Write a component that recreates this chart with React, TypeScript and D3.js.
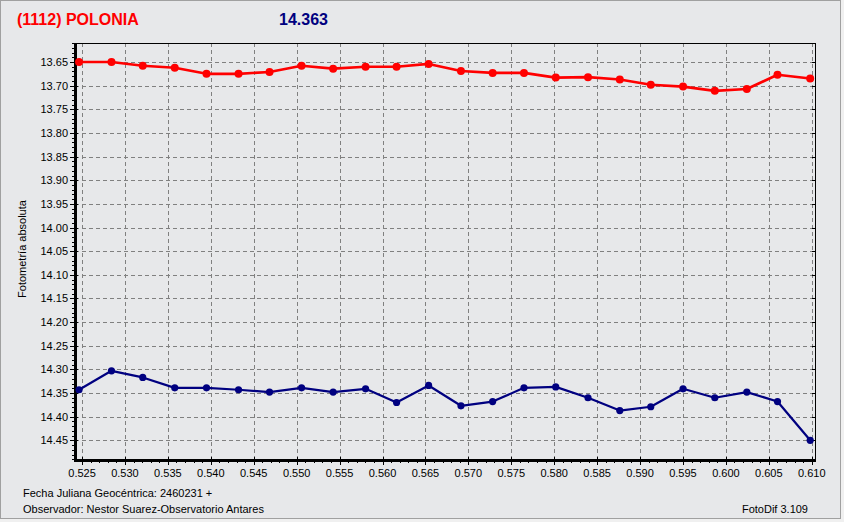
import React from "react";
import * as d3 from "d3";

const W = 844;
const H = 522;

const titleName = "(1112) POLONIA";
const titleValue = "14.363";
const yAxisLabel = "Fotometría absoluta";
const footerLine1 = "Fecha Juliana Geocéntrica: 2460231 +";
const footerLine2 = "Observador: Nestor Suarez-Observatorio Antares";
const footerRight = "FotoDif 3.109";

const times = [
  0.52465, 0.52843, 0.53207, 0.5358, 0.5395, 0.54323, 0.54684, 0.55057,
  0.55425, 0.55803, 0.56164, 0.56537, 0.56914, 0.57283, 0.57648, 0.58018,
  0.58394, 0.58764, 0.59125, 0.59501, 0.59871, 0.60244, 0.60601, 0.60982,
];

const redSeries = [
  13.65, 13.65, 13.658, 13.662, 13.675, 13.675, 13.671, 13.658,
  13.664, 13.66, 13.66, 13.654, 13.669, 13.673, 13.673, 13.683,
  13.682, 13.687, 13.698, 13.702, 13.711, 13.707, 13.677, 13.685,
];

const blueSeries = [
  14.343, 14.303, 14.317, 14.339, 14.339, 14.343, 14.348, 14.339,
  14.348, 14.341, 14.37, 14.334, 14.377, 14.368, 14.339, 14.337,
  14.36, 14.387, 14.379, 14.341, 14.36, 14.348, 14.368, 14.45,
];

const xTickLabels = [
  "0.525", "0.530", "0.535", "0.540", "0.545", "0.550", "0.555", "0.560", "0.565",
  "0.570", "0.575", "0.580", "0.585", "0.590", "0.595", "0.600", "0.605", "0.610",
];

const yTickLabels = [
  "13.65", "13.70", "13.75", "13.80", "13.85", "13.90", "13.95", "14.00", "14.05",
  "14.10", "14.15", "14.20", "14.25", "14.30", "14.35", "14.40", "14.45",
];

export default function App() {
  const left = 75, right = 815, top = 43, bottom = 460;
  const x = d3.scaleLinear().domain([0.52418, 0.61038]).range([left, right]);
  const y = d3.scaleLinear().domain([13.6098, 14.4916]).range([top, bottom]);

  const xTicks = xTickLabels.map((s) => +s);
  const yTicks = yTickLabels.map((s) => +s);

  const xMinor = d3.range(Math.ceil(0.52418 * 1000), Math.floor(0.61038 * 1000) + 1).map((v) => v / 1000);
  const yMinor = d3.range(Math.ceil(13.6098 * 100), Math.floor(14.4916 * 100) + 1).map((v) => v / 100);

  const line = d3
    .line<[number, number]>()
    .x((d) => x(d[0]))
    .y((d) => y(d[1]));

  const redPts: [number, number][] = times.map((t, i) => [t, redSeries[i]]);
  const bluePts: [number, number][] = times.map((t, i) => [t, blueSeries[i]]);

  const font = "'Liberation Sans', Arial, sans-serif";
  const px = (v: number) => Math.round(v) + 0.5;

  return (
    <svg
      width={W}
      height={H}
      style={{ position: "absolute", left: 0, top: 0, display: "block" }}
      fontFamily={font}
    >
      <rect x={0} y={0} width={W} height={H} fill="#f0f0f0" />
      <rect x={0.5} y={0.5} width={840} height={518} fill="#e7e8ea" stroke="#a0a0a0" shapeRendering="crispEdges" />

      {/* title */}
      <text x={17} y={25} fontSize={16} fontWeight="bold" fill="#ff0000">{titleName}</text>
      <text x={279} y={25} fontSize={16} fontWeight="bold" fill="#000080">{titleValue}</text>

      {/* grid */}
      <g stroke="#808080" strokeDasharray="4,3" strokeWidth={1} shapeRendering="crispEdges">
        {xTicks.map((t, i) => (
          <line key={"gx" + i} x1={px(x(t))} x2={px(x(t))} y1={top} y2={bottom} />
        ))}
        {yTicks.map((t, i) => (
          <line key={"gy" + i} x1={left} x2={right} y1={px(y(t))} y2={px(y(t))} />
        ))}
      </g>

      {/* minor ticks */}
      <g stroke="#000" strokeWidth={1} shapeRendering="crispEdges">
        {xMinor.map((t, i) => (
          <line key={"mx" + i} x1={px(x(t))} x2={px(x(t))} y1={bottom} y2={bottom + 3} />
        ))}
        {yMinor.map((t, i) => (
          <line key={"my" + i} x1={left - 3} x2={left} y1={px(y(t))} y2={px(y(t))} />
        ))}
        {xTicks.map((t, i) => (
          <line key={"tx" + i} x1={px(x(t))} x2={px(x(t))} y1={bottom - 3} y2={bottom + 5} />
        ))}
        {yTicks.map((t, i) => (
          <line key={"ty" + i} x1={left - 5} x2={left + 3} y1={px(y(t))} y2={px(y(t))} />
        ))}
        {yTicks.map((t, i) => (
          <line key={"tyr" + i} x1={right - 3} x2={right} y1={px(y(t))} y2={px(y(t))} />
        ))}
      </g>

      {/* plot frame */}
      <g shapeRendering="crispEdges">
        <line x1={left} x2={right + 1} y1={top + 0.5} y2={top + 0.5} stroke="#000" strokeWidth={1} />
        <line x1={right + 0.5} x2={right + 0.5} y1={top} y2={bottom} stroke="#000" strokeWidth={1} />
        <line x1={left} x2={left} y1={top} y2={bottom + 1.5} stroke="#000" strokeWidth={3} />
        <line x1={left - 1.5} x2={right + 1} y1={bottom} y2={bottom} stroke="#000" strokeWidth={3} />
      </g>

      {/* series */}
      <path d={line(redPts) || ""} fill="none" stroke="#ff0000" strokeWidth={2.6} strokeLinejoin="round" />
      {redPts.map((p, i) => (
        <circle key={"r" + i} cx={x(p[0])} cy={y(p[1])} r={4} fill="#ff0000" />
      ))}
      <path d={line(bluePts) || ""} fill="none" stroke="#000080" strokeWidth={2.2} strokeLinejoin="round" />
      {bluePts.map((p, i) => (
        <circle key={"b" + i} cx={x(p[0])} cy={y(p[1])} r={3.6} fill="#000080" />
      ))}

      {/* tick labels */}
      <g fontSize={11} fill="#000">
        {xTicks.map((t, i) => (
          <text key={"lx" + i} x={x(t)} y={477} textAnchor="middle">{xTickLabels[i]}</text>
        ))}
        {yTicks.map((t, i) => (
          <text key={"ly" + i} x={68} y={y(t) + 4} textAnchor="end">{yTickLabels[i]}</text>
        ))}
      </g>

      <text
        transform={`translate(26,${249}) rotate(-90)`}
        fontSize={11}
        textAnchor="middle"
        fill="#000"
      >
        {yAxisLabel}
      </text>

      {/* footer */}
      <g fontSize={11} fill="#000">
        <text x={23} y={497}>{footerLine1}</text>
        <text x={23} y={513}>{footerLine2}</text>
        <text x={808} y={513} textAnchor="end">{footerRight}</text>
      </g>
    </svg>
  );
}
